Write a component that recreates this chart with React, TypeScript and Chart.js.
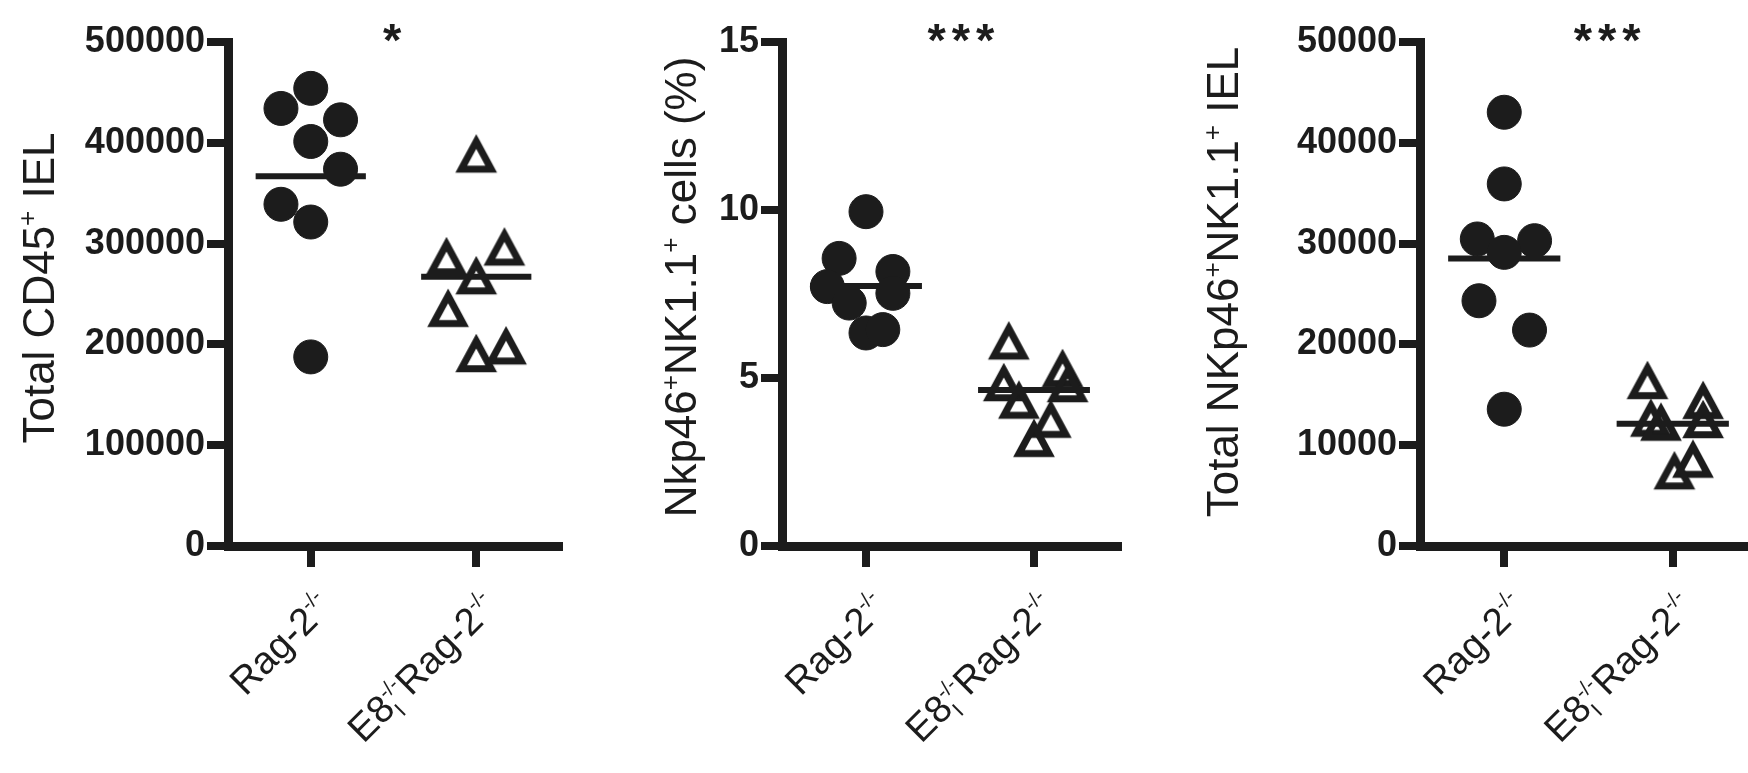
import React, { useEffect, useRef } from "react";
import { Chart, registerables } from "chart.js";

Chart.register(...registerables);

const INK = "#1c1c1c";
const FONT = '"Liberation Sans", Arial, Helvetica, sans-serif';

// ---------- data ----------
const categories = ["Rag-2-/-", "E8I-/-Rag-2-/-"];
const categoryPositions = [1, 2];

// Panel A: Total CD45+ IEL
const cd45Rag = [454000, 434100, 422800, 401300, 373800, 339000, 321400, 187600];
const cd45RagJitter = [0, -0.18, 0.18, 0, 0.18, -0.18, 0, 0];
const cd45E8 = [389500, 287600, 297200, 268700, 236300, 191500, 199100];
const cd45E8Jitter = [0, -0.18, 0.17, 0, -0.17, 0, 0.18];
const cd45YTicks = [0, 100000, 200000, 300000, 400000, 500000];

// Panel B: Nkp46+NK1.1+ cells (%)
const pctRag = [9.95, 8.56, 8.17, 7.52, 7.72, 7.23, 6.34, 6.44];
const pctRagJitter = [0, -0.16, 0.16, 0.16, -0.23, -0.1, 0, 0.1];
const pctE8 = [6.12, 5.3, 4.85, 4.88, 4.36, 3.79, 3.22];
const pctE8Jitter = [-0.15, 0.17, 0.2, -0.18, -0.09, 0.1, 0];
const pctYTicks = [0, 5, 10, 15];

// Panel C: Total NKp46+NK1.1+ IEL
const nkRag = [43030, 35920, 30460, 30290, 29130, 24330, 21420, 13570];
const nkRagJitter = [0, 0, -0.16, 0.18, 0, -0.15, 0.15, 0];
const nkE8 = [16480, 14500, 12740, 12340, 12600, 8670, 7520];
const nkE8Jitter = [-0.15, 0.18, -0.13, -0.07, 0.18, 0.12, 0.01];
const nkYTicks = [0, 10000, 20000, 30000, 40000, 50000];

const significance = ["*", "***", "***"];

type Kind = "n" | "sup" | "sub" | "supStack";
type Seg = [string, Kind];

const xLabelSegs: Seg[][] = [
  [["Rag-2", "n"], ["-/-", "sup"]],
  [["E8", "n"], ["I", "sub"], ["-/-", "supStack"], ["Rag-2", "n"], ["-/-", "sup"]],
];

const titleA: Seg[] = [["Total CD45", "n"], ["+", "sup"], [" IEL", "n"]];
const titleB: Seg[] = [["Nkp46", "n"], ["+", "sup"], ["NK1.1", "n"], ["+", "sup"], [" cells (%)", "n"]];
const titleC: Seg[] = [["Total NKp46", "n"], ["+", "sup"], ["NK1.1", "n"], ["+", "sup"], [" IEL", "n"]];

// ---------- helpers ----------
const mean = (a: number[]) => a.reduce((s, v) => s + v, 0) / a.length;

function layoutRich(ctx: CanvasRenderingContext2D, segs: Seg[], size: number, small: number) {
  let x = 0;
  let prevStart = 0;
  let prevEnd = 0;
  let lastNEnd = 0;
  const items: { t: string; fs: number; x: number; dy: number }[] = [];
  for (const [t, k] of segs) {
    const fs = k === "n" ? size : small;
    ctx.font = `${fs}px ${FONT}`;
    const w = ctx.measureText(t).width;
    const start = k === "supStack" ? prevStart : x;
    const dy = k === "n" ? 0 : k === "sub" ? size * 0.22 : -size * 0.4;
    items.push({ t, fs, x: start, dy });
    const end = start + w;
    x = k === "supStack" ? Math.max(prevEnd, end) : end;
    if (k === "n") lastNEnd = end;
    prevStart = start;
    prevEnd = end;
  }
  return { items, width: x, lastNEnd };
}

function makeTriangle(): HTMLCanvasElement {
  const c = document.createElement("canvas");
  c.width = 48;
  c.height = 44;
  const g = c.getContext("2d")!;
  g.strokeStyle = INK;
  g.lineWidth = 7;
  g.lineJoin = "miter";
  g.beginPath();
  g.moveTo(24, 10.0);
  g.lineTo(39, 37.8);
  g.lineTo(9, 37.8);
  g.closePath();
  g.stroke();
  return c;
}

interface PanelCfg {
  id: string;
  left: number;
  width: number;
  yWidth: number;
  rightPad: number;
  rag: number[];
  ragJitter: number[];
  e8: number[];
  e8Jitter: number[];
  yTicks: number[];
  title: Seg[];
  titleX: number;
  titleY: number;
  star: string;
  starX: number;
}

const panels: PanelCfg[] = [
  {
    id: "a", left: 0, width: 580, yWidth: 228, rightPad: 15,
    rag: cd45Rag, ragJitter: cd45RagJitter, e8: cd45E8, e8Jitter: cd45E8Jitter,
    yTicks: cd45YTicks, title: titleA, titleX: 53.5, titleY: 288,
    star: significance[0], starX: 1.51,
  },
  {
    id: "b", left: 600, width: 540, yWidth: 182, rightPad: 22,
    rag: pctRag, ragJitter: pctRagJitter, e8: pctE8, e8Jitter: pctE8Jitter,
    yTicks: pctYTicks, title: titleB, titleX: 96.4, titleY: 287,
    star: significance[1], starX: 1.583,
  },
  {
    id: "c", left: 1160, width: 620, yWidth: 260, rightPad: 23,
    rag: nkRag, ragJitter: nkRagJitter, e8: nkE8, e8Jitter: nkE8Jitter,
    yTicks: nkYTicks, title: titleC, titleX: 78.3, titleY: 282,
    star: significance[2], starX: 1.628,
  },
];

const H = 773;
const CHART_TOP = 42;
const X_AXIS_H = 227;
const MEAN_HALF = 0.333;

function makeDecor(p: PanelCfg) {
  return {
    id: "decor_" + p.id,
    afterDraw(chart: any) {
      const ctx: CanvasRenderingContext2D = chart.ctx;
      const xs = chart.scales.x;
      ctx.save();
      ctx.fillStyle = INK;
      ctx.textBaseline = "alphabetic";
      ctx.textAlign = "left";

      // y-axis title
      {
        const size = 44;
        const lay = layoutRich(ctx, p.title, size, 26);
        ctx.save();
        ctx.translate(p.titleX, p.titleY);
        ctx.rotate(-Math.PI / 2);
        for (const it of lay.items) {
          ctx.font = `${it.fs}px ${FONT}`;
          ctx.fillText(it.t, it.x - lay.width / 2, it.dy);
        }
        ctx.restore();
      }

      // x tick labels (rotated 45deg)
      categoryPositions.forEach((cp, i) => {
        const size = 38.5;
        const px = xs.getPixelForValue(cp);
        const lay = layoutRich(ctx, xLabelSegs[i], size, 21);
        ctx.save();
        ctx.translate(px - 1, 613);
        ctx.rotate(-Math.PI / 4);
        const base = size * 0.36;
        for (const it of lay.items) {
          ctx.font = `${it.fs}px ${FONT}`;
          ctx.fillText(it.t, it.x - lay.lastNEnd, base + it.dy);
        }
        ctx.restore();
      });

      // significance stars
      {
        ctx.font = `bold 47px ${FONT}`;
        (ctx as any).letterSpacing = "6px";
        ctx.textAlign = "center";
        const m = ctx.measureText(p.star);
        const A = m.actualBoundingBoxAscent;
        const D = m.actualBoundingBoxDescent;
        const base = 33 + (A - D) / 2;
        ctx.fillText(p.star, xs.getPixelForValue(p.starX), base);
        (ctx as any).letterSpacing = "0px";
      }
      ctx.restore();
    },
  };
}

function Panel({ p }: { p: PanelCfg }) {
  const ref = useRef<HTMLCanvasElement>(null);
  useEffect(() => {
    const tri = makeTriangle();
    const ragMean = mean(p.rag);
    const e8Mean = mean(p.e8);
    const yMax = p.yTicks[p.yTicks.length - 1];
    const chart = new Chart(ref.current!, {
      type: "scatter",
      data: {
        datasets: [
          {
            type: "line",
            data: [
              { x: categoryPositions[0] - MEAN_HALF, y: ragMean },
              { x: categoryPositions[0] + MEAN_HALF, y: ragMean },
            ],
            borderColor: INK,
            borderWidth: 6,
            pointRadius: 0,
            borderCapStyle: "butt",
          },
          {
            type: "line",
            data: [
              { x: categoryPositions[1] - MEAN_HALF, y: e8Mean },
              { x: categoryPositions[1] + MEAN_HALF, y: e8Mean },
            ],
            borderColor: INK,
            borderWidth: 6,
            pointRadius: 0,
            borderCapStyle: "butt",
          },
          {
            label: categories[0],
            data: p.rag.map((v, i) => ({ x: categoryPositions[0] + p.ragJitter[i], y: v })),
            pointStyle: "circle",
            pointRadius: 17,
            backgroundColor: INK,
            borderColor: INK,
            borderWidth: 1,
          },
          {
            label: categories[1],
            data: p.e8.map((v, i) => ({ x: categoryPositions[1] + p.e8Jitter[i], y: v })),
            pointStyle: tri as any,
            pointRadius: 20,
            backgroundColor: "rgba(0,0,0,0)",
            borderColor: INK,
          },
        ] as any,
      },
      options: {
        animation: false,
        responsive: false,
        devicePixelRatio: 1,
        events: [],
        layout: { padding: { top: CHART_TOP, left: 0, right: p.rightPad, bottom: 0 } },
        plugins: { legend: { display: false }, tooltip: { enabled: false } },
        scales: {
          x: {
            type: "linear",
            min: 0.5,
            max: 2.5,
            afterBuildTicks: (s: any) => {
              s.ticks = categoryPositions.map((v) => ({ value: v }));
            },
            afterFit: (s: any) => {
              s.height = X_AXIS_H;
            },
            ticks: { display: false },
            grid: { display: true, drawOnChartArea: false, drawTicks: true, tickLength: 21, lineWidth: 8, color: INK },
            border: { display: true, width: 9, color: INK },
          },
          y: {
            type: "linear",
            min: 0,
            max: yMax,
            afterBuildTicks: (s: any) => {
              s.ticks = p.yTicks.map((v) => ({ value: v }));
            },
            afterFit: (s: any) => {
              s.width = p.yWidth;
            },
            ticks: {
              callback: (v: any) => String(v),
              color: INK,
              padding: 2,
              font: { family: FONT, size: 36, weight: "bold" },
            },
            grid: { display: true, drawOnChartArea: false, drawTicks: true, tickLength: 21, lineWidth: 8, color: INK },
            border: { display: true, width: 9, color: INK },
          },
        },
      } as any,
      plugins: [makeDecor(p)],
    });
    return () => chart.destroy();
  }, []);
  return (
    <canvas
      ref={ref}
      width={p.width}
      height={H}
      style={{ position: "absolute", left: p.left, top: 0, width: p.width, height: H }}
    />
  );
}

export default function App() {
  return (
    <div
      style={{
        position: "absolute",
        left: 0,
        top: 0,
        width: 1748,
        height: H,
        overflow: "hidden",
        background: "#ffffff",
      }}
    >
      {panels.map((p) => (
        <Panel key={p.id} p={p} />
      ))}
    </div>
  );
}
